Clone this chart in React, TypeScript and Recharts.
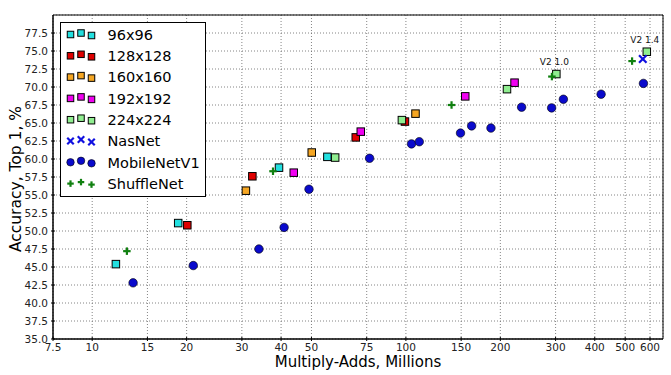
import React from 'react';
import { ScatterChart, Scatter, XAxis, YAxis, CartesianGrid, Legend, ReferenceArea } from 'recharts';

// multiply-adds (millions) and top-1 accuracy
const res96X = [11.9, 18.8, 39.4, 56.2];
const res96Y = [45.4, 51.1, 58.8, 60.3];

const res128X = [20.1, 32.4, 69.2, 99.3];
const res128Y = [50.8, 57.6, 63.0, 65.2];

const res160X = [30.9, 50.1, 107.3];
const res160Y = [55.6, 60.9, 66.3];

const res192X = [43.9, 71.8, 154.6, 222];
const res192Y = [58.1, 63.8, 68.7, 70.6];

const res224X = [59.5, 97.1, 210, 301.7, 586];
const res224Y = [60.2, 65.4, 69.7, 71.8, 74.9];
const res224Notes = ['', '', '', 'V2 1.0', 'V2 1.4'];

const nasNetX = [569];
const nasNetY = [73.9];

const mobileV1X = [13.5, 21.0, 34.0, 40.9, 49.1, 76.6, 104.2, 110.3, 149.3, 162, 186.7, 233.8, 291.4, 317.7, 419, 571.7];
const mobileV1Y = [42.8, 45.2, 47.5, 50.5, 55.8, 60.1, 62.1, 62.4, 63.6, 64.6, 64.3, 67.2, 67.1, 68.3, 69.0, 70.5];

const shuffleX = [12.9, 37.7, 139.8, 292, 526];
const shuffleY = [47.2, 58.3, 67.5, 71.45, 73.6];

const xTicks = [7.5, 10, 15, 20, 30, 40, 50, 75, 100, 150, 200, 300, 400, 500, 600];
const yTicks = [35, 37.5, 40, 42.5, 45, 47.5, 50, 52.5, 55, 57.5, 60, 62.5, 65, 67.5, 70, 72.5, 75, 77.5];

const FONT = '"DejaVu Sans", sans-serif';

const toPoints = (xs: number[], ys: number[], notes?: string[]) =>
  xs.map((x, i) => ({ x, y: ys[i], note: notes ? notes[i] : '' }));

type Marker = 'square' | 'circle' | 'cross' | 'plus';

const series: { name: string; data: any[]; color: string; marker: Marker }[] = [
  { name: '96x96', data: toPoints(res96X, res96Y), color: '#22e0e0', marker: 'square' },
  { name: '128x128', data: toPoints(res128X, res128Y), color: '#e00000', marker: 'square' },
  { name: '160x160', data: toPoints(res160X, res160Y), color: '#f5a623', marker: 'square' },
  { name: '192x192', data: toPoints(res192X, res192Y), color: '#f000f0', marker: 'square' },
  { name: '224x224', data: toPoints(res224X, res224Y, res224Notes), color: '#90ee90', marker: 'square' },
  { name: 'NasNet', data: toPoints(nasNetX, nasNetY), color: '#1010e0', marker: 'cross' },
  { name: 'MobileNetV1', data: toPoints(mobileV1X, mobileV1Y), color: '#0a0acc', marker: 'circle' },
  { name: 'ShuffleNet', data: toPoints(shuffleX, shuffleY), color: '#108010', marker: 'plus' },
];

const drawMarker = (marker: Marker, color: string, cx: number, cy: number, s: number) => {
  if (marker === 'square') {
    return <rect x={cx - s / 2} y={cy - s / 2} width={s} height={s} fill={color} stroke="#000" strokeWidth={1} />;
  }
  if (marker === 'circle') {
    return <circle cx={cx} cy={cy} r={s / 2 + 0.5} fill={color} stroke="#000" strokeWidth={0.6} />;
  }
  const h = s / 2;
  if (marker === 'cross') {
    return (
      <g stroke={color} strokeWidth={2.2}>
        <line x1={cx - h} y1={cy - h} x2={cx + h} y2={cy + h} />
        <line x1={cx - h} y1={cy + h} x2={cx + h} y2={cy - h} />
      </g>
    );
  }
  return (
    <g stroke={color} strokeWidth={2.2}>
      <line x1={cx - h} y1={cy} x2={cx + h} y2={cy} />
      <line x1={cx} y1={cy - h} x2={cx} y2={cy + h} />
    </g>
  );
};

const makeShape = (marker: Marker, color: string) => (props: any) => {
  const { cx, cy, payload } = props;
  return (
    <g>
      {drawMarker(marker, color, cx, cy, 7.5)}
      {payload && payload.note ? (
        <text x={cx - 2} y={cy - 9} textAnchor="middle" fontSize={9} fontFamily={FONT} fill="#111">
          {payload.note}
        </text>
      ) : null}
    </g>
  );
};

const renderLegend = () => (
  <svg width={147} height={176} style={{ display: 'block' }}>
    <rect x={0.5} y={0.5} width={145} height={174} fill="#fff" stroke="#000" strokeWidth={1} />
    {series.map((s, i) => {
      const cy = 12.5 + i * 21.3;
      const offs = [0, -1.5, 1];
      return (
        <g key={s.name}>
          {[10.5, 21, 31.5].map((mx, j) => (
            <g key={j}>{drawMarker(s.marker, s.color, mx, cy + offs[j], 6.5)}</g>
          ))}
          <text x={47.5} y={cy} dy="0.36em" fontSize={14.5} fontFamily={FONT} fill="#000">
            {s.name}
          </text>
        </g>
      );
    })}
  </svg>
);

const XTick = (props: any) => {
  const { x, y, payload } = props;
  return (
    <g>
      <line x1={x} x2={x} y1={y - 3} y2={y - 7} stroke="#000" strokeWidth={1} />
      <text x={x} y={y} dy="0.68em" textAnchor="middle" fontSize={10.5} fontFamily={FONT} fill="#222">
        {payload.value}
      </text>
    </g>
  );
};

const YTick = (props: any) => {
  const { x, y, payload } = props;
  return (
    <g>
      <line x1={x + 3} x2={x + 7} y1={y} y2={y} stroke="#000" strokeWidth={1} />
      <text x={x} y={y} dy="0.36em" textAnchor="end" fontSize={10.5} fontFamily={FONT} fill="#222">
        {payload.value.toFixed(1)}
      </text>
    </g>
  );
};

const YLabel = (props: any) => {
  const { viewBox } = props;
  const lx = viewBox.x + 15;
  const ly = viewBox.y + viewBox.height / 2 + 2;
  return (
    <text x={lx} y={ly} transform={`rotate(-90, ${lx}, ${ly})`} textAnchor="middle" dy="0.36em" fontSize={15.5} fontFamily={FONT} fill="#000">
      Accuracy, Top 1, %
    </text>
  );
};

const XLabel = (props: any) => {
  const { viewBox } = props;
  const lx = viewBox.x + viewBox.width / 2;
  const ly = viewBox.y + 28;
  return (
    <text x={lx} y={ly} textAnchor="middle" fontSize={15} fontFamily={FONT} fill="#000">
      Multiply-Adds, Millions
    </text>
  );
};

export default function App() {
  return (
    <div style={{ position: 'absolute', left: 0, top: 0, width: 671, height: 375, background: '#fff' }}>
      <ScatterChart width={671} height={375} margin={{ top: 15, right: 8, bottom: 0, left: 0 }}>
        <CartesianGrid stroke="#666" strokeWidth={0.8} strokeDasharray="1 2" />
        <XAxis
          dataKey="x"
          type="number"
          scale="log"
          domain={[7.5, 660]}
          ticks={xTicks}
          allowDataOverflow
          height={36}
          tickSize={3}
          tickLine={false}
          axisLine={{ stroke: '#000' }}
          tick={<XTick />}
          interval={0}
          label={<XLabel />}
        />
        <YAxis
          dataKey="y"
          type="number"
          domain={[35, 80]}
          ticks={yTicks}
          allowDataOverflow
          width={53}
          tickSize={3}
          tickLine={false}
          axisLine={{ stroke: '#000' }}
          tick={<YTick />}
          interval={0}
          label={<YLabel />}
        />
        <ReferenceArea x1={7.5} x2={660} y1={35} y2={80} fill="none" stroke="#000" strokeWidth={1} ifOverflow="extendDomain" />
        {series.map((s) => (
          <Scatter
            key={s.name}
            name={s.name}
            data={s.data}
            fill={s.color}
            shape={makeShape(s.marker, s.color)}
            isAnimationActive={false}
          />
        ))}
        <Legend
          layout="vertical"
          align="center"
          verticalAlign="middle"
          wrapperStyle={{ left: 60, top: 22, width: 147, height: 176 }}
          content={renderLegend}
        />
      </ScatterChart>
    </div>
  );
}
